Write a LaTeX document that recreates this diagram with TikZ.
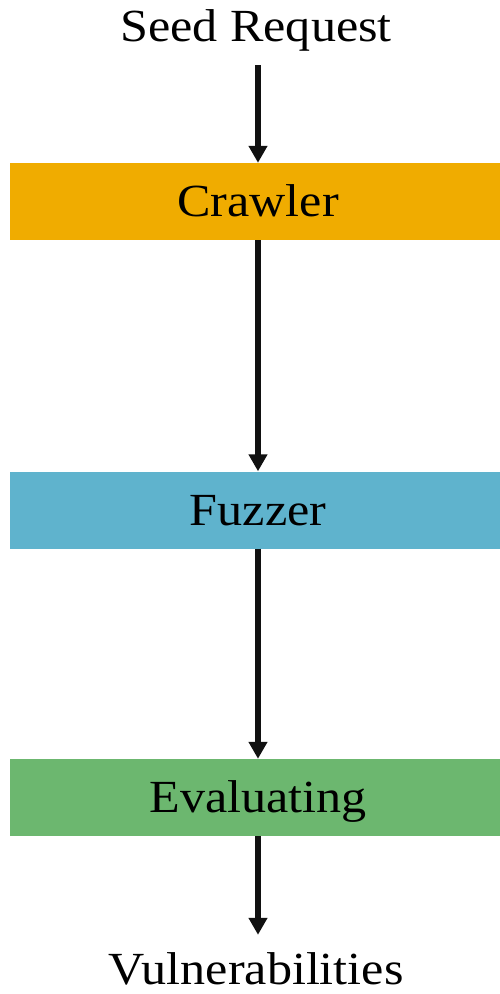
\documentclass[tikz,border=0pt]{standalone}
\usepackage{fontspec}
\setmainfont{Liberation Serif}[FakeStretch=1.09]
\usetikzlibrary{arrows.meta}
\definecolor{crawlerfill}{HTML}{F0AC00}
\definecolor{fuzzerfill}{HTML}{5FB3CD}
\definecolor{evalfill}{HTML}{6CB76F}
\definecolor{flowline}{HTML}{111111}
\tikzset{
  label text/.style={font=\fontsize{46}{50}\selectfont, text height=30pt, text depth=0pt},
  stage/.style={label text, minimum width=496pt, minimum height=77pt, inner sep=0pt, draw=none},
  endpoint/.style={label text, anchor=base, inner xsep=0pt},
  flow/.style={draw=flowline, line width=6pt, -{Triangle[width=18pt,length=17pt]}},
}
\begin{document}
\begin{tikzpicture}[x=1pt, y=-1pt]
  \useasboundingbox (0,0) rectangle (500,994);

  \node[endpoint, inner ysep=24pt] (seed) at (256,41) {Seed Request};
  \node[stage, fill=crawlerfill] (crawler) at (258,201.5) {Crawler};
  \node[stage, fill=fuzzerfill] (fuzzer) at (258,510) {Fuzzer};
  \node[stage, fill=evalfill] (eval) at (258,797.5) {Evaluating};
  \node[endpoint, inner ysep=0pt] (vuln) at (256,984) {Vulnerabilities};

  \draw[flow] (seed.south -| crawler) -- (crawler.north);
  \draw[flow] (crawler) -- (fuzzer);
  \draw[flow] (fuzzer) -- (eval);
  \draw[flow, shorten >=19pt] (eval) -- (vuln.north -| eval);
\end{tikzpicture}
\end{document}
